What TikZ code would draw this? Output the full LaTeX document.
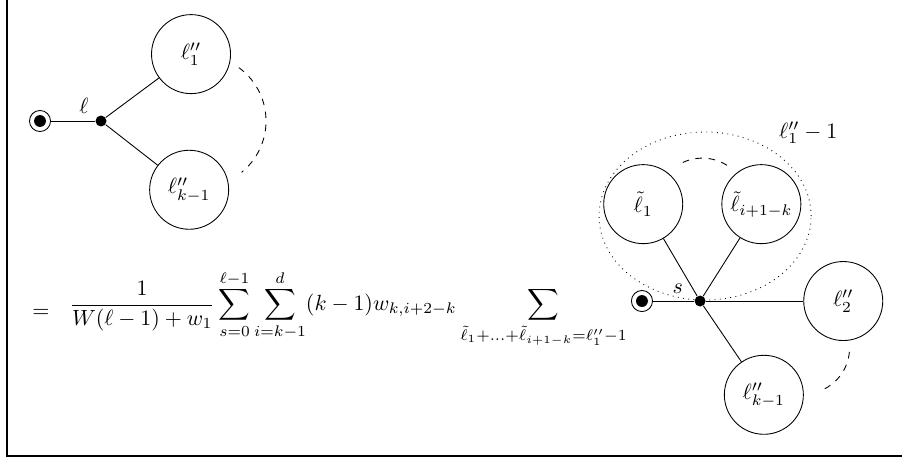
\documentclass[tikz,border=0pt]{standalone}
\usepackage{amsmath}
\usetikzlibrary{calc}
\begin{document}
\begin{tikzpicture}[
    leaf/.style={draw, circle, minimum size=1.264cm, inner sep=0pt},
    vertex/.style={fill, circle, minimum size=5pt, inner sep=0pt},
    root/.style={draw, circle, minimum size=9.6pt, inner sep=0pt,
        path picture={\fill (path picture bounding box.center) circle (2.7pt);}}
]
\useasboundingbox (0,0) rectangle (14.43,7.376);
\draw[line width=0.8pt] (0.112,7.376) -- (0.112,0.08) -- (14.43,0.08);

% Left tree
\node[root] (r0) at (0.64,5.44) {};
\node[vertex] (v0) at ([xshift=0.976cm]r0) {};
\node[leaf] (a1) at ([xshift=1.44cm,yshift=1.07cm]v0) {$\ell''_1$};
\node[leaf] (a2) at ([xshift=1.41cm,yshift=-1.1cm]v0) {$\ell''_{k-1}$};

\draw (r0) -- node[pos=0.75, above] {$\ell$} (v0);
\draw (v0) -- (a1);
\draw (v0) -- (a2);
\coordinate (gapL) at ([xshift=1.584cm]v0);
\draw[dashed] ([shift={(54:1.056cm)}]gapL) arc[start angle=54, end angle=-51, radius=1.056cm];

% Formula
\node (eq) at (0.656,2.368) {$=$};
\node[anchor=base west, inner sep=0pt] (sum) at (1.104,2.408)
    {$\displaystyle \frac{1}{W(\ell-1)+w_1}\sum_{s=0}^{\ell-1}\sum_{i=k-1}^{d}(k-1)w_{k,i+2-k}
      \sum_{\tilde\ell_1+\ldots+\tilde\ell_{i+1-k}=\ell''_1-1}$};

% Right tree
\node[root] (r1) at (10.27,2.56) {};
\node[vertex] (v1) at ([xshift=0.93cm]r1) {};
\node[leaf] (b1) at ([xshift=-0.91cm,yshift=1.55cm]v1) {$\tilde\ell_1$};
\node[leaf] (b2) at ([xshift=0.98cm,yshift=1.55cm]v1) {$\tilde\ell_{i+1-k}$};
\node[leaf] (b3) at ([xshift=2.29cm]v1) {$\ell''_2$};
\node[leaf] (b4) at ([xshift=1.02cm,yshift=-1.5cm]v1) {$\ell''_{k-1}$};

\draw (r1) -- node[pos=0.6, above] {$s$} (v1);
\draw (v1) -- (b1);
\draw (v1) -- (b2);
\draw (v1) -- (b3);
\draw (v1) -- (b4);
\coordinate (gapT) at ($(b1)!0.5!(b2)$);
\coordinate (gapR) at ($(b3)!0.5!(b4)$);
\draw[dashed] ([shift={(115:0.736cm)}]gapT) arc[start angle=115, end angle=55, radius=0.736cm];
\draw[dashed] ([shift={(-5:0.736cm)}]gapR) arc[start angle=-5, end angle=-70, radius=0.736cm];

% group of the new subtrees
\coordinate (grp) at (11.28,3.92);
\draw[dotted] (grp) ellipse [x radius=1.696cm, y radius=1.344cm];
\node (grplabel) at (12.93,5.25) {$\ell''_1-1$};
\end{tikzpicture}
\end{document}
